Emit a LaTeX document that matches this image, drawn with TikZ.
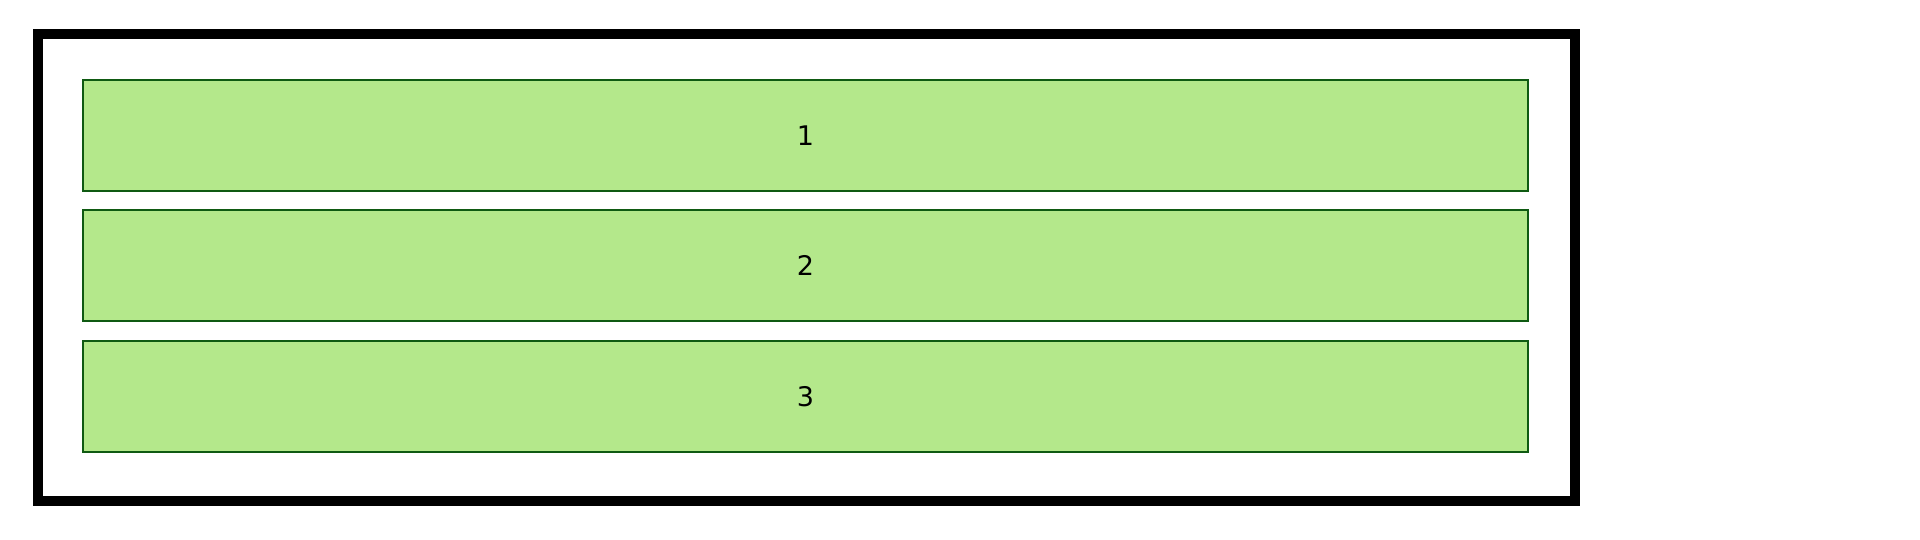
\documentclass[tikz,border=0pt]{standalone}
\usepackage{fontspec}
\setmainfont{DejaVu Sans}
\definecolor{boxfill}{HTML}{B4E88B}
\definecolor{boxline}{HTML}{0F5A12}
\tikzset{
  frame/.style={draw=black, line width=10pt},
  bar/.style={draw=boxline, fill=boxfill, line width=2pt, minimum width=1445pt, minimum height=111pt, inner sep=0pt, font=\fontsize{27}{30}\selectfont}
}
\begin{document}
\begin{tikzpicture}[x=1pt,y=-1pt]
\useasboundingbox (0,0) rectangle (1920,540);
\node[frame, minimum width=1537pt, minimum height=467pt, inner sep=0pt] (outer) at (806.5,267.5) {};
\node[bar] (b1) at (805.5,135.5) {1};
\node[bar] (b2) at (805.5,265.5) {2};
\node[bar] (b3) at (805.5,396.5) {3};
\end{tikzpicture}
\end{document}
